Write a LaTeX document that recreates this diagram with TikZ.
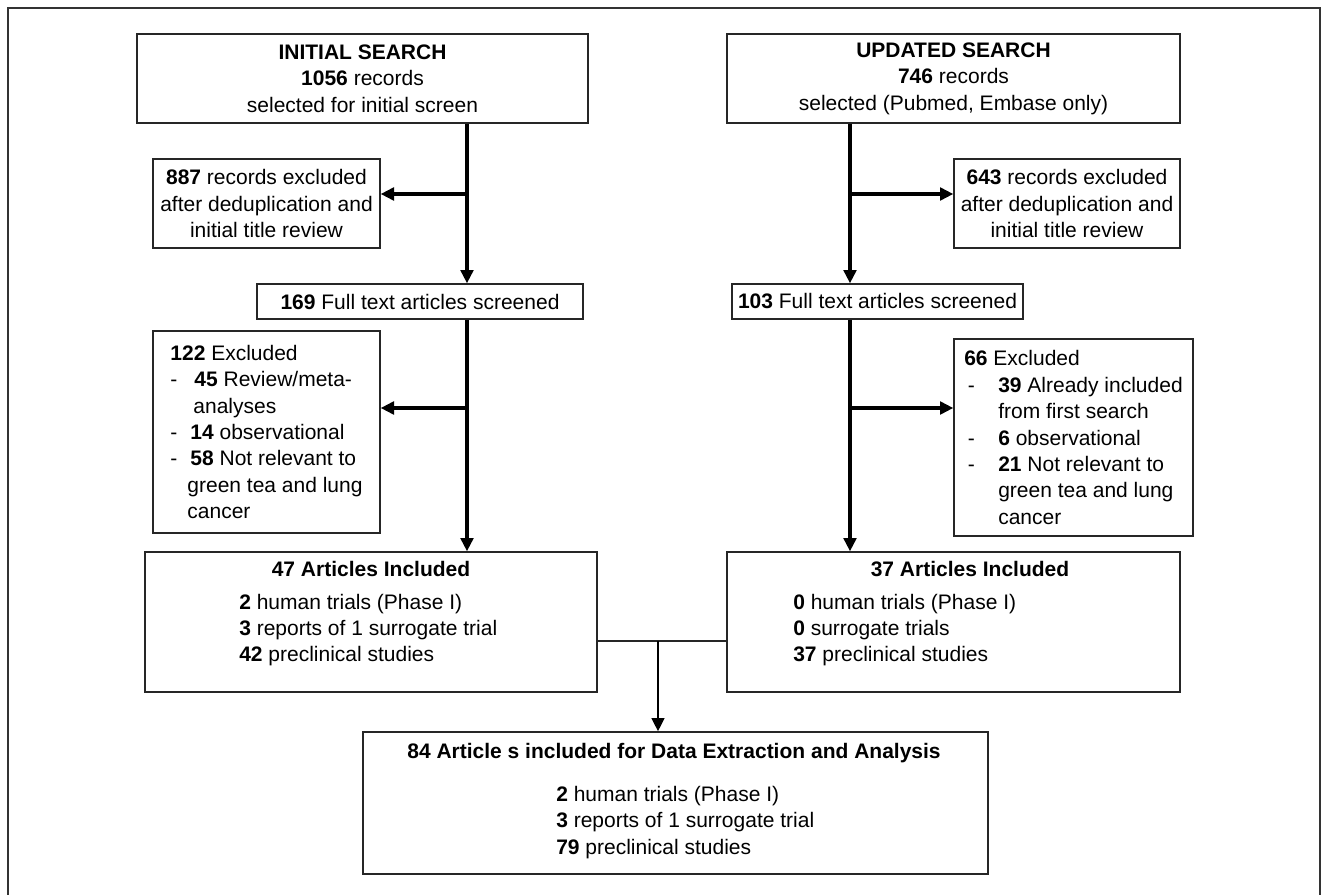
\documentclass[tikz,border=0pt]{standalone}
\usepackage{fontspec}
\setmainfont{Liberation Sans}
\usetikzlibrary{arrows.meta}
\tikzset{
	box/.style={draw=black!85, line width=1pt, inner sep=0pt, align=center},
	listbox/.style={box, align=left},
	flowarrow/.style={line width=2.4pt, -{Triangle[length=10pt,width=9.5pt]}},
	joinline/.style={line width=0.8pt, draw=black!85}
}
\begin{document}
\begin{tikzpicture}[x=0.75pt, y=-0.75pt, font=\fontsize{15.75pt}{19.8pt}\selectfont]
	\useasboundingbox (0,0) rectangle (1321,895);
	\draw[line width=1.5pt, black!80] (8,895) -- (8,8) -- (1320,8) -- (1320,895);
	% searches
	\node[box, minimum width=338.25pt, minimum height=66.75pt] (init) at (362.5,78.5) {\textbf{INITIAL SEARCH}\\\textbf{1056} records\\selected for initial screen};
	\node[box, minimum width=339.75pt, minimum height=66.75pt] (upd) at (953.5,78.5) {\textbf{UPDATED SEARCH}\\\textbf{746} records\\selected (Pubmed, Embase only)};
	\node[box, minimum width=170.25pt, minimum height=66.75pt] (excl1) at (266.5,203.5) {\textbf{887} records excluded\\after deduplication and\\initial title review};
	\node[box, minimum width=169.5pt, minimum height=66.75pt] (excl2) at (1067,203.5) {\textbf{643} records excluded\\after deduplication and\\initial title review};
	\node[box, minimum width=244.5pt, minimum height=26.25pt] (full1) at (420,301.5) {\textbf{169} Full text articles screened};
	\node[box, minimum width=218.25pt, minimum height=26.25pt] (full2) at (877.5,301.5) {\textbf{103} Full text articles screened};
	% exclusions after full text
	\node[listbox, minimum width=170.25pt, minimum height=151.5pt] (rej1) at (266.5,432) {\textbf{122} Excluded\\
		\makebox[18pt][l]{-}\textbf{45} Review/meta-\\
		\hspace*{17.25pt}analyses\\
		\makebox[15pt][l]{-}\textbf{14} observational\\
		\makebox[15pt][l]{-}\textbf{58} Not relevant to\\
		\hspace*{12.75pt}green tea and lung\\
		\hspace*{12.75pt}cancer};
	\node[listbox, minimum width=179.25pt, minimum height=147.75pt] (rej2) at (1073.5,437.5) {\textbf{66} Excluded\\
		\makebox[25.5pt][l]{\,-}\textbf{39} Already included\\
		\hspace*{25.5pt}from first search\\
		\makebox[25.5pt][l]{\,-}\textbf{6} observational\\
		\makebox[25.5pt][l]{\,-}\textbf{21} Not relevant to\\
		\hspace*{25.5pt}green tea and lung\\
		\hspace*{25.5pt}cancer};
	% included
	\node[box, minimum width=339pt, minimum height=105pt] (inc1) at (371,622) {};
	\node (inc1head) at (371,569) {\textbf{47 Articles Included}};
	\node[anchor=west, align=left, inner sep=0pt] (inc1list) at (239,630) {\textbf{2} human trials (Phase I)\\\textbf{3} reports of 1 surrogate trial\\\textbf{42} preclinical studies};
	\node[box, minimum width=339.75pt, minimum height=105pt] (inc2) at (953.5,622) {};
	\node (inc2head) at (970,569) {\textbf{37 Articles Included}};
	\node[anchor=west, align=left, inner sep=0pt] (inc2list) at (793,630) {\textbf{0} human trials (Phase I)\\\textbf{0} surrogate trials\\\textbf{37} preclinical studies};
	\node[box, minimum width=468.75pt, minimum height=106.5pt] (final) at (675.5,803) {};
	\node (finalhead) at (674,753) {\textbf{84 Article s included for Data Extraction and Analysis}};
	\node[anchor=west, align=left, inner sep=0pt] (finallist) at (556,822.5) {\textbf{2} human trials (Phase I)\\\textbf{3} reports of 1 surrogate trial\\\textbf{79} preclinical studies};
	% connectors
	\coordinate (trunkA) at (467,0);
	\coordinate (trunkB) at (850,0);
	\coordinate (splitA1) at (467,194);
	\coordinate (splitA2) at (467,408);
	\coordinate (splitB1) at (850,194);
	\coordinate (splitB2) at (850,408);
	\coordinate (join) at (658,641);
	\draw[flowarrow] (init.south -| trunkA) -- (full1.north -| trunkA);
	\draw[flowarrow] (splitA1) -- (splitA1 -| excl1.east);
	\draw[flowarrow] (full1.south -| trunkA) -- (inc1.north -| trunkA);
	\draw[flowarrow] (splitA2) -- (splitA2 -| rej1.east);
	\draw[flowarrow] (upd.south -| trunkB) -- (full2.north -| trunkB);
	\draw[flowarrow] (splitB1) -- (splitB1 -| excl2.west);
	\draw[flowarrow] (full2.south -| trunkB) -- (inc2.north -| trunkB);
	\draw[flowarrow] (splitB2) -- (splitB2 -| rej2.west);
	\draw[joinline] (inc1.east |- join) -- (inc2.west |- join);
	\draw[flowarrow, line width=2pt] (join) -- (final.north -| join);
\end{tikzpicture}
\end{document}
